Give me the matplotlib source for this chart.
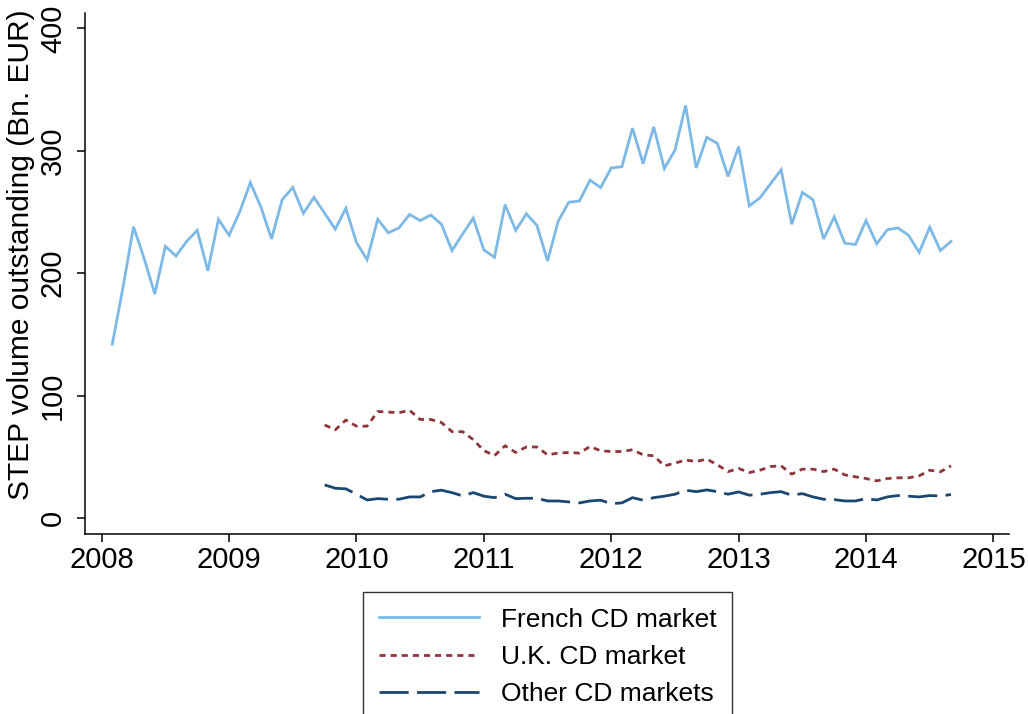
import numpy as np
import pandas as pd
import matplotlib
matplotlib.use("Agg")
import matplotlib.pyplot as plt

plt.rcParams['font.family'] = ['Liberation Sans', 'DejaVu Sans']

# ---- data (Bn. EUR, monthly) ----
french_start = "2008-02"
french_values = [142, 188, 238, 212, 183, 222, 214, 226, 235, 202,
                 244, 231, 250, 274, 254, 228, 260, 270, 249, 262,
                 249, 236, 253, 225, 211, 244, 233, 237, 248, 243,
                 247.5, 240, 218.5, 232, 245, 219, 213, 256, 235, 248.5,
                 239, 210, 242.5, 258, 259, 276, 270, 286, 287, 318.5,
                 289.5, 319.5, 285.5, 300.5, 337, 286, 311, 306, 279, 303.5,
                 255, 261.5, 273, 284.5, 240, 266, 260, 228, 246, 224.5,
                 223.5, 243, 224, 235.5, 237, 231, 217, 237.5, 218.5, 226]

uk_start = "2009-10"
uk_values = [76, 72, 80, 75, 75, 87, 86.5, 86, 88, 80.5,
             80.5, 78, 70.5, 70.5, 64, 55, 51, 59, 53.5, 58,
             58, 51.6, 53, 53.5, 53, 58.4, 54.9, 54.3, 54.3, 55.7,
             51.6, 50.8, 42.6, 44.8, 47.3, 46.1, 48.1, 43.4, 37.9, 40.4,
             37.1, 39, 42, 42.6, 35.8, 39.9, 39.9, 37.9, 39.9, 35.2,
             33.6, 32.2, 30.3, 32.2, 32.8, 32.8, 34.4, 39, 37.7, 42.6]

other_start = "2009-10"
other_values = [27, 24.3, 23.8, 19.4, 14.7, 15.8, 15.3, 15.3, 17.2, 17.2,
                21.5, 22.7, 20.7, 18, 20.7, 17.8, 16.6, 19.4, 15.8, 16.1,
                16.1, 13.9, 13.9, 13.1, 12.3, 13.9, 14.5, 11.7, 12.3, 16.6,
                14.5, 16.6, 17.8, 19.4, 22.7, 21.5, 22.9, 21.5, 19.4, 21.3,
                18.6, 19.4, 20.7, 21.5, 18.6, 19.9, 17.2, 15.3, 15.0, 13.9,
                13.9, 15.8, 14.7, 17.2, 18.3, 17.8, 17.2, 18.3, 18, 19.1]

series_labels = ["French CD market", "U.K. CD market", "Other CD markets"]
x_ticks = [2008, 2009, 2010, 2011, 2012, 2013, 2014, 2015]
y_ticks = [0, 100, 200, 300, 400]
y_label = "STEP volume outstanding (Bn. EUR)"


def decimal_years(start, n):
    d = pd.date_range(start, periods=n, freq="MS")
    return d.year + (d.month - 1) / 12.0


fig = plt.figure(figsize=(10.28, 7.14), dpi=100)
ax = fig.add_axes([85 / 1028, 1 - 534 / 714, (1009 - 85) / 1028, (534 - 12.5) / 714])

l1, = ax.plot(decimal_years(french_start, len(french_values)), french_values,
              color="#7DB9E6", lw=2.0, solid_joinstyle="miter")
l2, = ax.plot(decimal_years(uk_start, len(uk_values)), uk_values,
              color="#90353B", lw=2.0, dashes=(2.2, 1.8))
l3, = ax.plot(decimal_years(other_start, len(other_values)), other_values,
              color="#1A476F", lw=2.0, dashes=(10.5, 3.0))

ax.set_xlim(2007.869, 2015.122)
ax.set_ylim(-13.1, 413)
ax.set_xticks(x_ticks)
ax.set_xticklabels([str(t) for t in x_ticks], fontsize=21)
ax.set_yticks(y_ticks)
ax.set_yticklabels([str(t) for t in y_ticks], fontsize=21, rotation=90, va="center")
ax.set_ylabel(y_label, fontsize=21.5)
ax.yaxis.set_label_coords((35.5 - 85) / 924, (534 - 255) / 521.5)

for s in ["top", "right"]:
    ax.spines[s].set_visible(False)
for s in ["left", "bottom"]:
    ax.spines[s].set_linewidth(1.1)
    ax.spines[s].set_color("black")
ax.tick_params(direction="out", length=5.5, width=1.1, colors="black")
ax.tick_params(axis="x", pad=3)
ax.tick_params(axis="y", pad=7.5)

leg = fig.legend([l1, l2, l3], series_labels, loc="upper center",
                 bbox_to_anchor=(547.5 / 1028, 1 - 592 / 714),
                 fontsize=19, frameon=True, fancybox=False, shadow=False,
                 handlelength=3.8, handletextpad=0.83, borderpad=0.59,
                 labelspacing=0.51, borderaxespad=0)
leg.get_frame().set_edgecolor("black")
leg.get_frame().set_linewidth(1.0)

fig.savefig("out.png", dpi=100)
